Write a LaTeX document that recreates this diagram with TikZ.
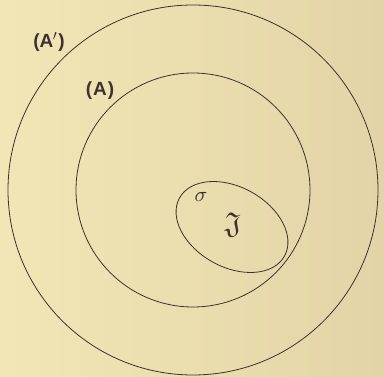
\documentclass[tikz,border=0pt]{standalone}
\usepackage{amssymb}
\usepackage{graphicx}
\usepackage{fontspec}
\setsansfont{Liberation Sans}
\definecolor{paperL}{RGB}{242,230,182}
\definecolor{paperR}{RGB}{226,212,166}
\definecolor{ink}{RGB}{60,50,45}
\tikzset{
  curve/.style={draw=ink, line width=0.8pt},
  lbl/.style={inner sep=0pt, text=ink, font=\fontsize{19}{21}\selectfont\sffamily\bfseries},
  mlbl/.style={inner sep=0pt, text=ink}
}
\begin{document}
\begin{tikzpicture}[x=1pt,y=-1pt]
\shade[left color=paperL, right color=paperR] (0,0) rectangle (384,377);
\useasboundingbox (0,0) rectangle (384,377);
\node[curve, circle, minimum size=370pt, inner sep=0pt] (outer) at (193,190) {};
\node[curve, circle, minimum size=234pt, inner sep=0pt] (inner) at (193,190) {};
\draw[curve, rotate around={-29:(232,227)}] (232,227) ellipse [x radius=60, y radius=40];
\node[lbl] (Ap) at (49,42) {(A\kern-0.5pt$'$\kern1pt)};
\node[lbl] (A) at (100,91) {(\kern1pt A\kern1pt)};
\node[mlbl] (sigma) at (201,197) {\scalebox{2.1}{$\sigma$}};
\node[mlbl] (J) at (233,225) {\scalebox{3.0}{$\mathfrak{J}$}};
\end{tikzpicture}
\end{document}
